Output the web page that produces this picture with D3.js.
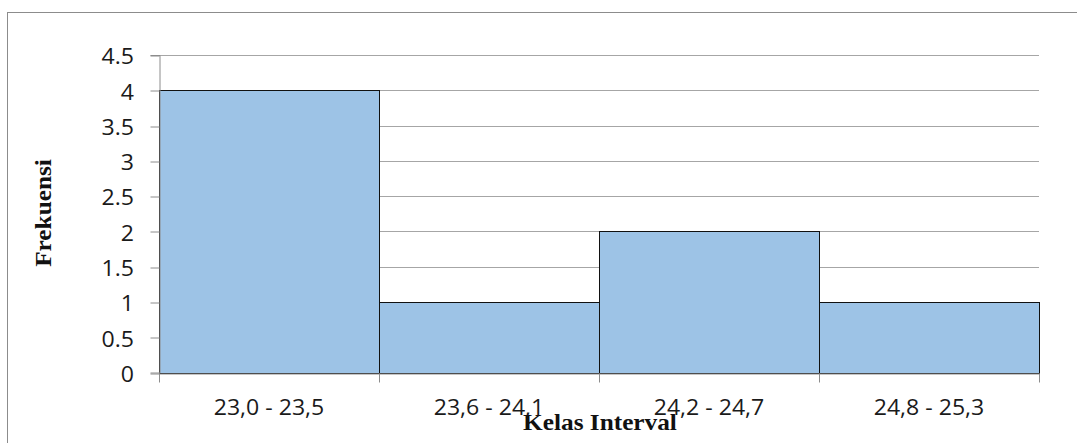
<!DOCTYPE html>
<html>
<head>
<meta charset="utf-8">
<script src="https://cdn.jsdelivr.net/npm/d3@7"></script>
<style>
  html, body { margin: 0; padding: 0; background: #fff; }
  svg { display: block; }
</style>
</head>
<body>
<svg id="chart" width="1077" height="443"></svg>
<script>
// Frequency distribution of class intervals
const categories = ["23,0 - 23,5", "23,6 - 24,1", "24,2 - 24,7", "24,8 - 25,3"];
const frequencies = [4, 1, 2, 1];
const yTicks = [0, 0.5, 1, 1.5, 2, 2.5, 3, 3.5, 4, 4.5];
const yTickLabels = ["0", "0.5", "1", "1.5", "2", "2.5", "3", "3.5", "4", "4.5"];
const xTitle = "Kelas Interval";
const yTitle = "Frekuensi";

const svg = d3.select("#chart");
const plot = { left: 159, right: 1039, top: 55, bottom: 372.5 };
const labelFont = "'Open Sans', sans-serif";
const labelSize = "22px";
const stretch = 1.05; // slight horizontal stretch of tick labels

// Chart frame
svg.append("rect")
  .attr("x", 7.5).attr("y", 12.5)
  .attr("width", 1200).attr("height", 600)
  .attr("fill", "none").attr("stroke", "#8c8c8c").attr("stroke-width", 1);

const x = d3.scaleBand().domain(categories)
  .range([plot.left, plot.right]).padding(0);
const y = d3.scaleLinear().domain([0, 4.5]).range([plot.bottom, plot.top]);

// Horizontal gridlines
svg.append("g").selectAll("line")
  .data(yTicks.filter(d => d > 0))
  .join("line")
  .attr("x1", plot.left).attr("x2", plot.right)
  .attr("y1", d => Math.round(y(d)) + 0.5).attr("y2", d => Math.round(y(d)) + 0.5)
  .attr("stroke", "#a6a6a6").attr("stroke-width", 1);

// Bars
svg.append("g").selectAll("rect")
  .data(frequencies)
  .join("rect")
  .attr("x", (d, i) => x(categories[i]) + 0.5)
  .attr("y", d => Math.round(y(d)) + 0.5)
  .attr("width", x.bandwidth())
  .attr("height", d => Math.round(y(0)) - Math.round(y(d)))
  .attr("fill", "#9dc3e6")
  .attr("stroke", "#111").attr("stroke-width", 1);

// Y axis
const yAxis = d3.axisLeft(y)
  .tickValues(yTicks)
  .tickFormat((d, i) => yTickLabels[i])
  .tickSize(9).tickPadding(0);
const yg = svg.append("g")
  .attr("transform", `translate(${plot.left + 0.5},0)`)
  .call(yAxis);
yg.select(".domain").attr("stroke", "#8c8c8c");
yg.selectAll(".tick line").attr("stroke", "#8c8c8c")
  .attr("transform", d => `translate(0,${Math.round(y(d)) + 0.5 - y(d)})`);
yg.selectAll(".tick text")
  .attr("x", -25.5 / stretch)
  .attr("dy", "0.4em")
  .attr("fill", "#1a1a1a")
  .style("font-family", labelFont)
  .style("font-size", labelSize)
  .attr("transform", `scale(${stretch},1)`);

// X axis
const xAxis = d3.axisBottom(x).tickSize(0).tickPadding(0);
const xg = svg.append("g")
  .attr("transform", `translate(0,${Math.round(plot.bottom) + 0.5})`)
  .call(xAxis);
xg.select(".domain").attr("stroke", "#8c8c8c");
xg.selectAll(".tick text")
  .attr("x", 0).attr("y", 0).attr("dy", 0)
  .attr("fill", "#1a1a1a")
  .style("font-family", labelFont)
  .style("font-size", labelSize)
  .attr("transform", `translate(0,41.5) scale(${stretch},1)`);
// Tick marks at band edges
const edges = categories.map(c => x(c)).concat([plot.right]);
xg.append("g").selectAll("line")
  .data(edges)
  .join("line")
  .attr("x1", d => Math.round(d) + 0.5).attr("x2", d => Math.round(d) + 0.5)
  .attr("y1", 0).attr("y2", 9)
  .attr("stroke", "#8c8c8c");

// Axis titles
svg.append("text")
  .attr("transform", "translate(51,213) rotate(-90) scale(1.1,1)")
  .attr("text-anchor", "middle")
  .style("font-family", "'Liberation Serif', 'Times New Roman', serif")
  .style("font-weight", "bold")
  .style("font-size", "23px")
  .attr("fill", "#111")
  .text(yTitle);

svg.append("text")
  .attr("transform", "translate(600,430) scale(1.1,1)")
  .attr("text-anchor", "middle")
  .style("font-family", "'Liberation Serif', 'Times New Roman', serif")
  .style("font-weight", "bold")
  .style("font-size", "23px")
  .attr("fill", "#111")
  .text(xTitle);
</script>
</body>
</html>
